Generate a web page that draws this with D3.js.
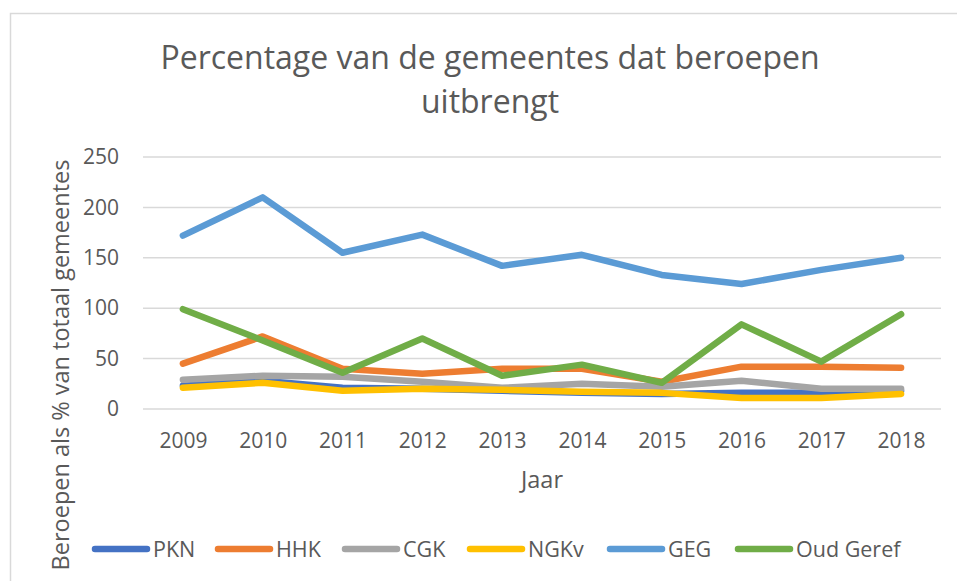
<!DOCTYPE html>
<html>
<head>
<meta charset="utf-8">
<script src="https://cdn.jsdelivr.net/npm/d3@7"></script>
<style>
  body { margin: 0; background: #fff; }
  svg text { font-family: "Open Sans", sans-serif; fill: #595959; }
</style>
</head>
<body>
<svg id="chart" width="957" height="581"></svg>
<script>
// data
const years = ["2009", "2010", "2011", "2012", "2013", "2014", "2015", "2016", "2017", "2018"];
const seriesNames = ["PKN", "HHK", "CGK", "NGKv", "GEG", "Oud Geref"];
const seriesColors = ["#4472C4", "#ED7D31", "#A5A5A5", "#FFC000", "#5B9BD5", "#70AD47"];
const pkn = [23, 28, 21, 20, 18, 16, 15, 16, 16, 18];
const hhk = [45, 72, 40, 35, 40, 40, 27, 42, 42, 41];
const cgk = [29, 33, 32, 27, 21, 25, 22, 28, 20, 20];
const ngkv = [21, 26, 18, 20, 19, 17, 16, 11, 11, 15];
const geg = [172, 210, 155, 173, 142, 153, 133, 124, 138, 150];
const oudGeref = [99, 68, 36, 70, 33, 44, 26, 84, 47, 94];
const yTicks = [0, 50, 100, 150, 200, 250];

const allValues = [pkn, hhk, cgk, ngkv, geg, oudGeref];

const svg = d3.select("#chart");

// chart border
svg.append("rect")
  .attr("x", 10.5).attr("y", 13.5)
  .attr("width", 960).attr("height", 580)
  .attr("fill", "none").attr("stroke", "#d9d9d9").attr("stroke-width", 1.5);

const plotLeft = 143, plotRight = 941, plotTop = 157, plotBottom = 409;

const x = d3.scalePoint().domain(years).range([plotLeft, plotRight]).padding(0.5);
const y = d3.scaleLinear().domain([0, 250]).range([plotBottom, plotTop]);

// title, two lines
const titleLines = ["Percentage van de gemeentes dat beroepen", "uitbrengt"];
svg.append("g")
  .selectAll("text")
  .data(titleLines)
  .join("text")
  .attr("x", 490)
  .attr("y", (d, i) => 69 + i * 44)
  .attr("text-anchor", "middle")
  .style("font-size", "32px")
  .text(d => d);

// gridlines
svg.append("g")
  .selectAll("line")
  .data(yTicks)
  .join("line")
  .attr("x1", plotLeft).attr("x2", plotRight)
  .attr("y1", d => y(d)).attr("y2", d => y(d))
  .attr("stroke", "#d9d9d9").attr("stroke-width", 1.5);

// y axis
const yAxis = svg.append("g")
  .attr("transform", `translate(${plotLeft},0)`)
  .call(d3.axisLeft(y).tickValues(yTicks).tickSize(0).tickPadding(24));
yAxis.select(".domain").remove();
yAxis.selectAll("text").style("font-size", "21px").attr("fill", "#595959");

// x axis
const xAxis = svg.append("g")
  .attr("transform", `translate(0,${plotBottom})`)
  .call(d3.axisBottom(x).tickSize(0).tickPadding(24));
xAxis.select(".domain").remove();
xAxis.selectAll("text").style("font-size", "21px").attr("fill", "#595959");

// axis titles
svg.append("text")
  .attr("x", (plotLeft + plotRight) / 2).attr("y", 488)
  .attr("text-anchor", "middle")
  .style("font-size", "23.5px")
  .text("Jaar");

svg.append("text")
  .attr("transform", "translate(69,365) rotate(-90)")
  .attr("text-anchor", "middle")
  .style("font-size", "23.5px")
  .text("Beroepen als % van totaal gemeentes");

// lines
const line = d3.line()
  .x((d, i) => x(years[i]))
  .y(d => y(d));

svg.append("g")
  .selectAll("path")
  .data(allValues)
  .join("path")
  .attr("d", line)
  .attr("fill", "none")
  .attr("stroke", (d, i) => seriesColors[i])
  .attr("stroke-width", 6.5)
  .attr("stroke-linecap", "round")
  .attr("stroke-linejoin", "round");

// legend
const legendX = [95, 218, 345, 470, 610, 738];
const legend = svg.append("g")
  .selectAll("g")
  .data(seriesNames)
  .join("g")
  .attr("transform", (d, i) => `translate(${legendX[i]},549)`);
legend.append("line")
  .attr("x1", 0).attr("x2", 52)
  .attr("stroke", (d, i) => seriesColors[i])
  .attr("stroke-width", 6.5)
  .attr("stroke-linecap", "round");
legend.append("text")
  .attr("x", 58).attr("dy", "0.35em")
  .style("font-size", "21.5px")
  .text(d => d);
</script>
</body>
</html>
